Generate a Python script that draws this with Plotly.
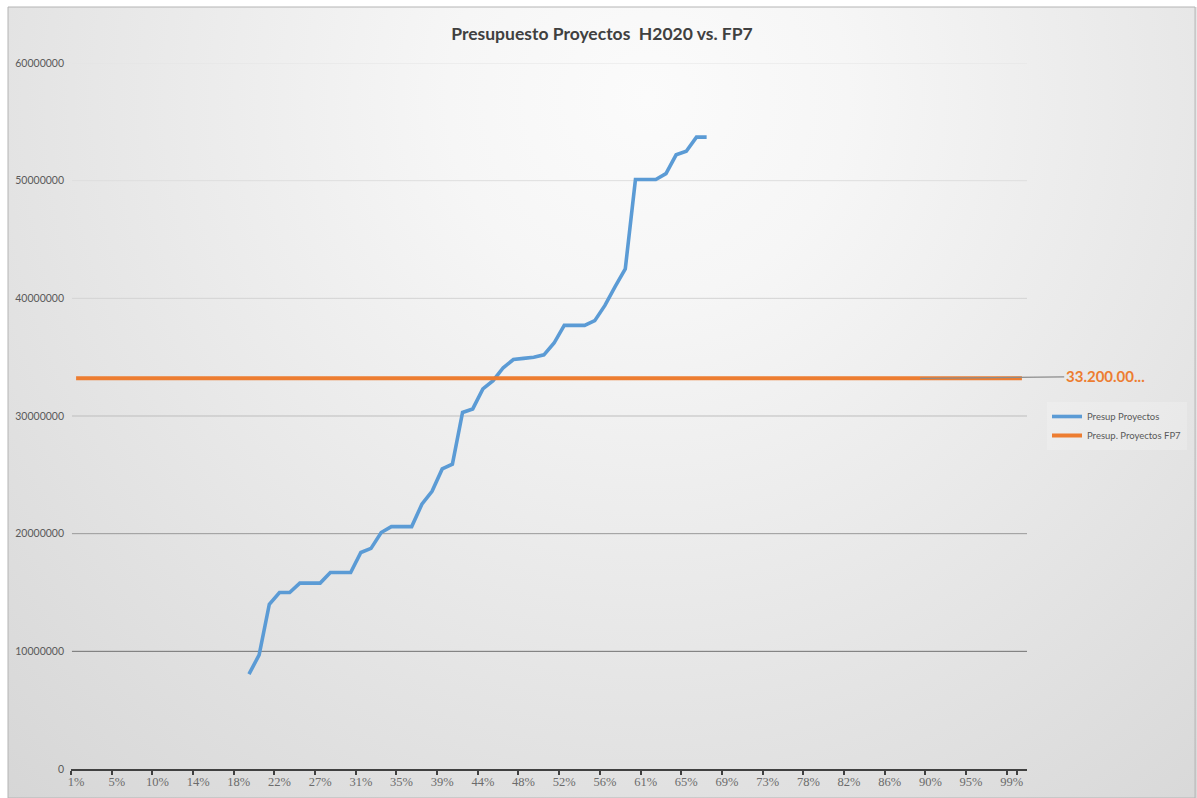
import base64
import plotly.graph_objects as go

# ---------------- data ----------------
categories = [
    "1%", "2%", "3%", "4%", "5%", "6%", "7%", "9%", "10%", "11%",
    "12%", "13%", "14%", "15%", "16%", "17%", "18%", "19%", "20%", "21%",
    "22%", "23%", "24%", "26%", "27%", "28%", "29%", "30%", "31%", "32%",
    "33%", "34%", "35%", "36%", "37%", "38%", "39%", "40%", "41%", "43%",
    "44%", "45%", "46%", "47%", "48%", "49%", "50%", "51%", "52%", "53%",
    "54%", "55%", "56%", "57%", "59%", "60%", "61%", "62%", "63%", "64%",
    "65%", "66%", "67%", "68%", "69%", "70%", "71%", "72%", "73%", "74%",
    "76%", "77%", "78%", "79%", "80%", "81%", "82%", "83%", "84%", "85%",
    "86%", "87%", "88%", "89%", "90%", "91%", "93%", "94%", "95%", "96%",
    "97%", "98%", "99%", "100%",
]

tick_labels = ["1%", "5%", "10%", "14%", "18%", "22%", "27%", "31%", "35%", "39%",
               "44%", "48%", "52%", "56%", "61%", "65%", "69%", "73%", "78%", "82%",
               "86%", "90%", "95%", "99%"]

# H2020 project budgets (blue series), categories "19%" .. "67%"
h2020_categories = categories[17:63]
h2020_values = [
    8070000, 9700000, 14000000, 15000000, 15000000, 15800000, 15800000, 15800000,
    16700000, 16700000, 16700000, 18400000, 18750000, 20100000, 20600000, 20600000,
    20600000, 22500000, 23600000, 25500000, 25900000, 30300000, 30600000, 32300000,
    33000000, 34100000, 34800000, 34900000, 35000000, 35200000, 36200000, 37700000,
    37700000, 37700000, 38100000, 39400000, 41000000, 42500000, 50100000, 50100000,
    50100000, 50600000, 52200000, 52500000, 53700000, 53700000,
]

fp7_value = 33200000
fp7_values = [fp7_value] * len(categories)

y_ticks = [0, 10000000, 20000000, 30000000, 40000000, 50000000, 60000000]
grid_colors = ["#707070", "#9a9a9a", "#bdbdbd", "#d3d3d3", "#dedede", "#e4e4e4"]

series_names = ["Presup Proyectos", "Presup. Proyectos FP7"]
label_category = "89%"

# ---------------- layout geometry ----------------
W, H = 1197, 798
L, R, T, B = 71, 170, 63, 29
pw, ph = W - L - R, H - T - B

# gradient background (Excel-like radial fill), as an SVG image
svg = (
    '<svg xmlns="http://www.w3.org/2000/svg" width="1189" height="791" '
    'viewBox="0 0 1189 791" preserveAspectRatio="none">'
    '<defs><radialGradient id="g" gradientUnits="userSpaceOnUse" cx="640" cy="90" r="1000">'
    '<stop offset="0" stop-color="#fbfbfb"/>'
    '<stop offset="0.2" stop-color="#f6f6f6"/>'
    '<stop offset="1" stop-color="#d4d4d4"/>'
    '</radialGradient></defs>'
    '<rect x="0" y="0" width="1189" height="791" fill="url(#g)"/>'
    '</svg>'
)
svg_uri = "data:image/svg+xml;base64," + base64.b64encode(svg.encode()).decode()

fx0 = (8 - L) / pw
fx1 = (W - L) / pw
fy_top = (H - B - 7) / ph
fy_bot = (H - B - H) / ph

fig = go.Figure()

fig.add_trace(go.Scatter(
    x=h2020_categories, y=h2020_values, mode="lines", name=series_names[0],
    line=dict(color="#5b9bd5", width=3.6), hoverinfo="x+y",
))
fig.add_trace(go.Scatter(
    x=categories, y=fp7_values, mode="lines", name=series_names[1],
    line=dict(color="#ed7d31", width=4), hoverinfo="x+y",
))

shapes = []
# frame
shapes.append(dict(type="rect", xref="paper", yref="paper", x0=fx0, x1=fx1 - 0.002,
                   y0=fy_bot, y1=fy_top, line=dict(color="#b4b4b4", width=1),
                   fillcolor="rgba(0,0,0,0)", layer="below"))
# gridlines
for v, c in zip(y_ticks[1:], grid_colors):
    shapes.append(dict(type="line", xref="paper", yref="y", x0=0.001, x1=1, y0=v, y1=v,
                       line=dict(color=c, width=1), layer="below"))

label_text = f"{fp7_value:,.0f}".replace(",", ".")[:9] + "..."

fig.update_layout(
    width=W, height=H,
    margin=dict(l=L, r=R, t=T, b=B, pad=0, autoexpand=False),
    paper_bgcolor="white",
    plot_bgcolor="rgba(0,0,0,0)",
    font=dict(family="Lato, 'Liberation Sans', sans-serif", color="#595959"),
    title=dict(
        text="<b>Presupuesto Proyectos \u00a0H2020 vs. FP7</b>",
        x=602 / W, xref="container", xanchor="center",
        y=1 - 34 / H, yref="container", yanchor="middle",
        font=dict(family="Lato, sans-serif", size=17.5, color="#404040"),
    ),
    images=[dict(source=svg_uri, xref="paper", yref="paper", x=fx0, y=fy_top,
                 sizex=fx1 - fx0, sizey=fy_top - fy_bot, xanchor="left", yanchor="top",
                 sizing="stretch", layer="below")],
    shapes=shapes,
    xaxis=dict(
        type="category", categoryorder="array", categoryarray=categories,
        range=[-0.5, len(categories) - 0.5],
        tickmode="array", tickvals=tick_labels, ticktext=tick_labels,
        tickson="boundaries", ticks="outside", ticklen=4, tickwidth=2, tickcolor="#404040",
        tickangle=0, automargin=False,
        showline=True, linecolor="#404040", linewidth=2,
        showgrid=False, zeroline=False,
        tickfont=dict(family="'Liberation Serif', 'DejaVu Serif', serif", size=12.5, color="#6b6b6b"),
        fixedrange=True,
    ),
    yaxis=dict(
        range=[0, 60000000], tickmode="array", tickvals=y_ticks,
        ticktext=[str(v) for v in y_ticks],
        showgrid=False, zeroline=False, showline=False, ticks="",
        ticklabelstandoff=6, automargin=False,
        tickfont=dict(family="Lato, sans-serif", size=10.5, color="#5a5a5a"),
        fixedrange=True,
    ),
    showlegend=True,
    legend=dict(
        x=(1047 - L) / pw, y=(H - B - 402) / ph, xanchor="left", yanchor="top",
        bgcolor="rgba(255,255,255,0.2)", borderwidth=0,
        font=dict(family="Lato, sans-serif", size=9.5, color="#595959"),
        tracegroupgap=0, itemwidth=30,
    ),
    annotations=[dict(
        x=label_category, y=fp7_value, xref="x", yref="y",
        text=f"<b>{label_text}</b>", showarrow=True, arrowhead=0,
        arrowcolor="#8c8c8c", arrowwidth=1.2, ax=185, ay=-2,
        font=dict(family="Lato, sans-serif", size=15, color="#ed7d31"),
        xanchor="center", yanchor="middle",
    )],
)

fig.write_html("out.html", config={"displayModeBar": False},
               post_script="document.body.style.margin='0';document.body.style.overflow='hidden';")
